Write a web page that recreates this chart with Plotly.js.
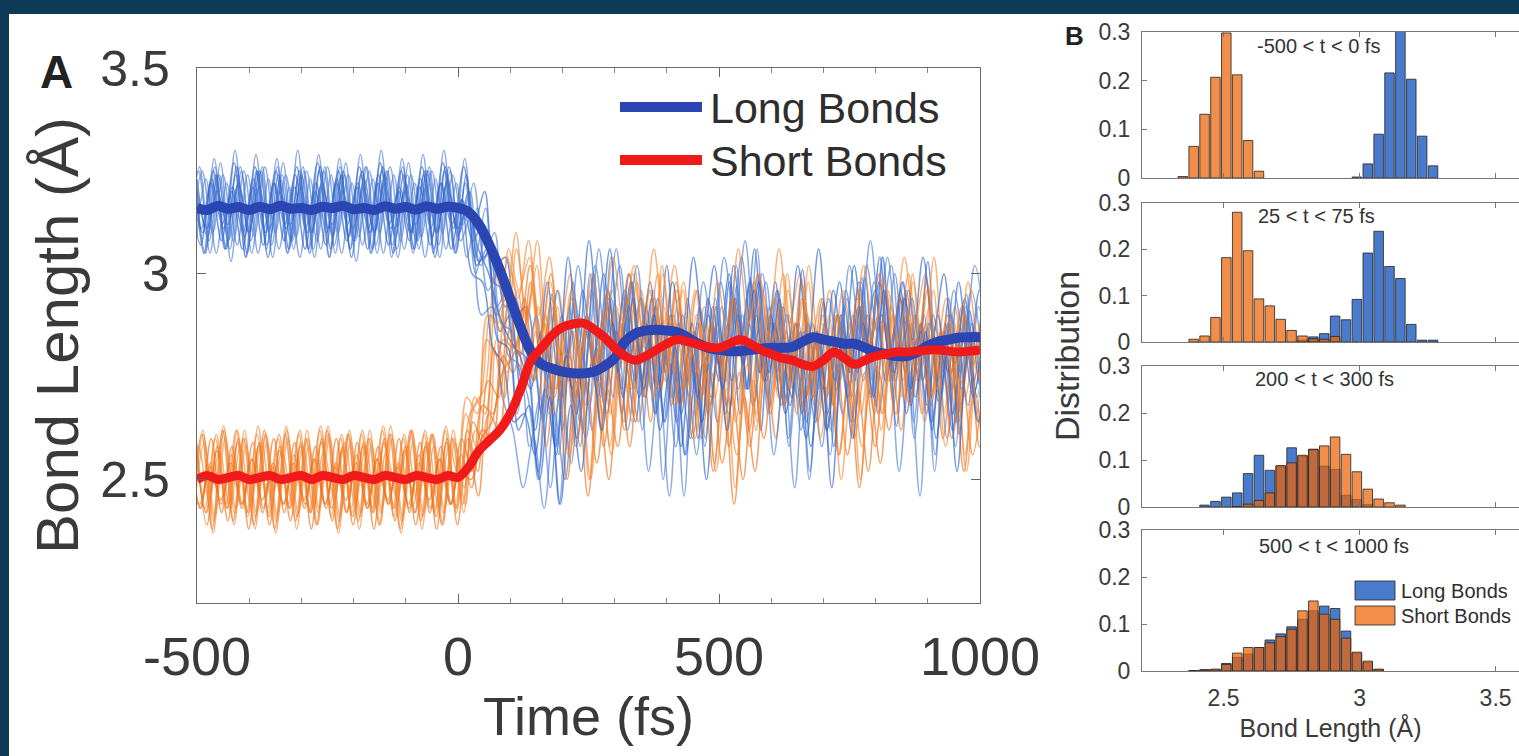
<!DOCTYPE html>
<html>
<head>
<meta charset="utf-8">
<script src="https://cdn.plot.ly/plotly-3.0.1.min.js"></script>
<style>
  html, body { margin: 0; padding: 0; background: #0d3a54; }
  #chart { width: 1519px; height: 756px; }
</style>
</head>
<body>
<div id="chart"></div>
<script>
// ---------------- Panel A: bond-length trajectories ----------------
// Samples every 20 fs starting at -500 fs; each run has its own small start shift (fs).
const RUN_T0 = -500;
const RUN_DT = 20;

// Ensemble averages (Å)
const longMean = [3.160,3.155,3.165,3.158,3.162,3.155,3.163,3.157,3.165,3.158,3.160,3.155,3.163,3.160,3.165,3.157,3.160,3.155,3.164,3.158,3.162,3.156,3.164,3.158,3.163,3.160,
  3.15,3.12,3.07,3.01,2.94,2.87,2.81,2.78,2.77,2.762,
  2.758,2.758,2.762,2.775,2.795,2.835,2.855,2.862,2.864,2.862,
  2.858,2.845,2.83,2.82,2.815,2.812,2.812,2.815,2.818,2.82,
  2.82,2.822,2.835,2.846,2.84,2.835,2.83,2.83,2.82,2.81,
  2.805,2.80,2.80,2.81,2.825,2.835,2.84,2.845,2.846,2.846];
const shortMean = [2.500,2.510,2.500,2.505,2.510,2.500,2.505,2.510,2.500,2.505,2.510,2.500,2.510,2.505,2.500,2.510,2.505,2.500,2.510,2.505,2.500,2.510,2.505,2.500,2.510,2.505,
  2.53,2.57,2.595,2.62,2.66,2.72,2.79,2.82,2.85,2.87,
  2.878,2.88,2.866,2.846,2.82,2.80,2.79,2.80,2.815,2.83,
  2.84,2.835,2.828,2.822,2.82,2.83,2.84,2.83,2.815,2.805,
  2.795,2.79,2.78,2.775,2.79,2.81,2.795,2.78,2.79,2.80,
  2.805,2.81,2.81,2.812,2.815,2.815,2.812,2.81,2.812,2.815];

// Individual long-bond runs (Å)
const longRun01 = [3.23,3.09,3.24,3.08,3.22,3.10,3.25,3.09,3.23,3.08,3.24,3.10,3.22,3.09,3.25,3.08,3.23,3.10,3.24,3.09,3.22,3.08,3.25,3.10,3.23,3.09,
  3.20,3.03,3.05,2.86,2.90,2.72,2.84,
  2.66,2.95,2.62,2.98,2.70,3.00,2.68,2.86,2.80,2.64,2.92,2.72,3.02,2.70,2.94,2.60,2.90,2.74,2.98,2.66,2.99,2.62,2.88,2.82,2.70,3.01,2.70,2.93,2.58,2.92,2.74,2.99,2.68,2.96,2.63,2.89,2.78,3.03,2.69,2.94,2.61,2.91,2.73,2.98];
const longRun02 = [3.25,3.05,3.26,3.06,3.24,3.04,3.25,3.07,3.26,3.05,3.23,3.06,3.25,3.04,3.26,3.06,3.24,3.05,3.25,3.07,3.26,3.05,3.24,3.06,3.25,3.05,
  3.22,3.00,3.10,2.92,2.96,2.78,2.70,
  2.52,2.76,2.44,2.80,2.58,2.88,2.62,2.94,2.66,2.98,2.70,2.96,2.64,2.90,2.56,2.86,2.60,2.92,2.68,2.97,2.72,3.00,2.66,2.92,2.58,2.84,2.52,2.82,2.62,2.90,2.70,2.99,2.74,3.04,2.68,2.94,2.60,2.86,2.56,2.88,2.64,2.95,2.70,2.98];
const longRun03 = [3.22,3.11,3.23,3.12,3.21,3.10,3.23,3.11,3.22,3.12,3.24,3.11,3.22,3.10,3.23,3.12,3.22,3.11,3.24,3.12,3.21,3.10,3.23,3.11,3.22,3.12,
  3.18,3.08,3.12,2.98,2.96,2.82,2.80,
  2.62,2.84,2.56,2.80,2.60,2.86,2.70,2.94,2.78,3.00,2.80,2.98,2.72,2.90,2.66,2.88,2.64,2.92,2.72,3.02,2.80,3.06,2.78,2.98,2.70,2.88,2.64,2.86,2.66,2.90,2.76,2.98,2.82,3.04,2.78,2.96,2.68,2.88,2.62,2.84,2.66,2.92,2.74,3.00];
const longRun04 = [3.06,3.23,3.05,3.22,3.07,3.24,3.05,3.23,3.06,3.21,3.04,3.23,3.06,3.24,3.05,3.22,3.07,3.23,3.05,3.24,3.06,3.22,3.04,3.23,3.06,3.22,
  3.04,3.16,2.96,3.00,2.80,2.78,2.58,
  2.70,2.48,2.74,2.54,2.82,2.62,2.88,2.70,2.94,2.72,2.90,2.66,2.82,2.58,2.78,2.56,2.80,2.64,2.88,2.72,2.96,2.76,2.92,2.70,2.84,2.62,2.78,2.58,2.82,2.66,2.90,2.74,2.98,2.80,3.00,2.76,2.90,2.66,2.82,2.60,2.84,2.68,2.92,2.74];
const longRun05 = [3.26,3.10,3.25,3.11,3.27,3.09,3.26,3.10,3.25,3.11,3.26,3.10,3.27,3.11,3.25,3.09,3.26,3.10,3.27,3.11,3.25,3.10,3.26,3.09,3.27,3.11,
  3.26,3.12,3.20,3.02,3.04,2.90,2.92,
  2.78,2.98,2.76,3.04,2.82,3.08,2.86,3.06,2.80,2.98,2.74,2.94,2.76,2.98,2.82,3.04,2.86,3.02,2.80,2.94,2.72,2.90,2.74,2.96,2.80,3.02,2.84,3.06,2.82,2.98,2.76,2.92,2.70,2.90,2.76,2.98,2.84,3.04,2.86,3.00,2.78,2.94,2.72,2.92];
const longRun06 = [3.04,3.26,3.05,3.27,3.03,3.25,3.05,3.26,3.04,3.27,3.06,3.25,3.04,3.26,3.05,3.27,3.03,3.26,3.05,3.25,3.04,3.27,3.06,3.26,3.04,3.25,
  3.08,3.14,2.90,2.92,2.70,2.62,2.48,
  2.60,2.43,2.66,2.50,2.74,2.60,2.82,2.66,2.86,2.62,2.80,2.52,2.74,2.46,2.76,2.60,2.84,2.70,2.92,2.74,2.90,2.68,2.82,2.56,2.76,2.48,2.78,2.64,2.86,2.72,2.94,2.76,2.90,2.66,2.80,2.52,2.76,2.46,2.84,2.70,2.90,2.72,2.88,2.66];
const longRun07 = [3.21,3.11,3.20,3.12,3.22,3.10,3.21,3.11,3.20,3.12,3.21,3.10,3.22,3.12,3.20,3.11,3.21,3.10,3.22,3.11,3.20,3.12,3.21,3.10,3.22,3.11,
  3.16,3.06,3.00,2.90,2.84,2.80,2.72,
  2.86,2.68,2.90,2.72,2.96,2.78,3.00,2.80,2.96,2.74,2.88,2.66,2.84,2.64,2.86,2.70,2.94,2.78,3.00,2.82,2.98,2.76,2.90,2.68,2.86,2.66,2.88,2.72,2.96,2.80,3.02,2.82,2.96,2.74,2.88,2.66,2.84,2.68,2.90,2.76,2.98,2.80,2.96,2.74];
const longRun08 = [3.29,3.05,3.28,3.06,3.30,3.04,3.29,3.06,3.28,3.05,3.30,3.06,3.29,3.04,3.28,3.06,3.29,3.05,3.30,3.04,3.28,3.06,3.29,3.05,3.30,3.06,
  3.28,3.04,3.16,2.90,2.94,2.66,2.80,
  2.50,2.84,2.56,2.92,2.64,3.00,2.70,3.04,2.72,2.98,2.62,2.90,2.50,2.82,2.46,2.86,2.58,2.94,2.66,3.02,2.72,3.06,2.70,2.96,2.60,2.88,2.50,2.84,2.56,2.90,2.64,2.98,2.72,3.04,2.74,2.98,2.64,2.90,2.52,2.86,2.58,2.92,2.66,3.00];
const longRun09 = [3.21,3.07,3.22,3.08,3.20,3.06,3.21,3.07,3.22,3.08,3.21,3.06,3.20,3.07,3.22,3.08,3.21,3.06,3.22,3.07,3.20,3.08,3.21,3.07,3.22,3.06,
  3.18,3.00,2.98,2.82,2.78,2.64,2.66,
  2.56,2.72,2.58,2.80,2.66,2.90,2.74,2.96,2.76,2.92,2.70,2.84,2.62,2.78,2.58,2.80,2.64,2.88,2.72,2.94,2.78,2.96,2.74,2.88,2.66,2.80,2.60,2.78,2.62,2.84,2.70,2.92,2.78,2.98,2.80,2.94,2.72,2.86,2.64,2.80,2.62,2.84,2.70,2.90];
const longRun10 = [3.07,3.25,3.08,3.24,3.06,3.26,3.08,3.25,3.07,3.24,3.08,3.26,3.06,3.25,3.07,3.24,3.08,3.26,3.07,3.25,3.06,3.24,3.08,3.25,3.07,3.26,
  3.10,3.20,3.02,3.06,2.88,2.86,2.74,
  2.80,2.64,2.86,2.70,2.94,2.78,3.02,2.84,3.06,2.86,3.02,2.80,2.94,2.72,2.88,2.70,2.92,2.76,2.98,2.84,3.04,2.86,3.00,2.80,2.92,2.72,2.86,2.68,2.88,2.74,2.96,2.82,3.02,2.86,3.04,2.82,2.96,2.74,2.88,2.70,2.90,2.76,2.96,2.82];
const longRun11 = [3.25,3.05,3.24,3.06,3.26,3.05,3.25,3.04,3.24,3.06,3.25,3.05,3.26,3.06,3.24,3.04,3.25,3.06,3.26,3.05,3.24,3.06,3.25,3.04,3.26,3.05,
  3.24,3.02,3.06,2.84,2.82,2.62,2.68,
  2.50,2.70,2.44,2.68,2.52,2.78,2.62,2.88,2.70,2.94,2.72,2.90,2.64,2.82,2.56,2.76,2.50,2.80,2.62,2.90,2.72,2.98,2.76,2.94,2.68,2.86,2.58,2.78,2.48,2.78,2.60,2.88,2.70,2.96,2.76,2.94,2.70,2.86,2.60,2.80,2.52,2.80,2.64,2.90];
const longRun12 = [3.09,3.25,3.10,3.24,3.08,3.25,3.09,3.26,3.10,3.24,3.09,3.25,3.08,3.26,3.10,3.24,3.09,3.25,3.10,3.26,3.08,3.24,3.09,3.25,3.10,3.24,
  3.12,3.22,3.04,3.10,2.92,2.94,2.78,
  2.90,2.74,2.96,2.80,3.02,2.84,3.06,2.86,3.02,2.80,2.94,2.72,2.88,2.70,2.90,2.76,2.98,2.84,3.04,2.88,3.08,2.84,2.98,2.76,2.90,2.70,2.88,2.72,2.94,2.80,3.02,2.86,3.08,2.88,3.02,2.80,2.94,2.74,2.90,2.76,2.96,2.84,3.02,2.86];

// Individual short-bond runs (Å)
const shortRun01 = [2.58,2.42,2.57,2.43,2.59,2.42,2.58,2.41,2.57,2.43,2.58,2.42,2.59,2.43,2.57,2.41,2.58,2.42,2.59,2.43,2.57,2.42,2.58,2.41,2.59,2.43,
  2.62,2.52,2.74,2.70,2.94,2.86,3.02,
  2.84,3.00,2.80,2.94,2.72,2.88,2.66,2.84,2.64,2.86,2.70,2.92,2.76,2.98,2.80,2.96,2.74,2.88,2.66,2.82,2.62,2.84,2.68,2.92,2.76,2.98,2.78,2.94,2.70,2.86,2.64,2.82,2.66,2.88,2.74,2.96,2.80,2.98,2.74,2.90,2.66,2.84,2.64,2.86];
const shortRun02 = [2.41,2.61,2.40,2.62,2.42,2.60,2.41,2.61,2.40,2.62,2.41,2.60,2.42,2.61,2.40,2.62,2.41,2.60,2.42,2.61,2.40,2.62,2.41,2.61,2.42,2.60,
  2.48,2.70,2.66,2.92,2.84,3.06,2.90,
  3.08,2.82,2.96,2.74,2.90,2.68,2.86,2.66,2.88,2.72,2.94,2.78,3.00,2.82,2.98,2.76,2.92,2.70,2.86,2.64,2.84,2.66,2.90,2.74,2.96,2.80,3.02,2.82,2.96,2.74,2.88,2.66,2.84,2.66,2.90,2.74,2.98,2.80,3.04,2.78,2.92,2.70,2.86,2.66];
const shortRun03 = [2.55,2.43,2.54,2.44,2.56,2.43,2.55,2.42,2.54,2.44,2.56,2.43,2.55,2.44,2.54,2.42,2.56,2.43,2.55,2.44,2.54,2.43,2.56,2.42,2.55,2.44,
  2.56,2.48,2.62,2.60,2.80,2.76,2.92,
  2.74,2.88,2.66,2.80,2.58,2.74,2.54,2.72,2.58,2.78,2.64,2.84,2.70,2.88,2.68,2.82,2.60,2.76,2.54,2.70,2.50,2.74,2.60,2.82,2.68,2.88,2.70,2.84,2.62,2.78,2.56,2.72,2.52,2.76,2.62,2.84,2.70,2.88,2.68,2.80,2.60,2.74,2.56,2.74];
const shortRun04 = [2.61,2.43,2.60,2.44,2.62,2.42,2.61,2.43,2.60,2.44,2.61,2.42,2.62,2.44,2.60,2.43,2.61,2.42,2.62,2.43,2.60,2.44,2.61,2.42,2.62,2.43,
  2.66,2.58,2.84,2.80,3.04,2.94,3.08,
  2.90,3.04,2.86,3.00,2.80,2.96,2.78,2.96,2.82,3.00,2.86,3.06,2.88,3.02,2.82,2.96,2.76,2.92,2.74,2.94,2.80,3.00,2.86,3.06,2.88,3.00,2.82,2.94,2.76,2.90,2.74,2.92,2.80,2.98,2.86,3.04,2.88,3.00,2.80,2.94,2.74,2.90,2.76,2.94];
const shortRun05 = [2.39,2.61,2.38,2.62,2.40,2.60,2.39,2.62,2.38,2.61,2.40,2.60,2.39,2.62,2.38,2.61,2.40,2.60,2.39,2.61,2.38,2.62,2.40,2.61,2.39,2.60,
  2.44,2.64,2.58,2.82,2.70,2.90,2.72,
  2.86,2.58,2.78,2.50,2.72,2.46,2.70,2.50,2.76,2.58,2.84,2.64,2.90,2.68,2.86,2.60,2.78,2.52,2.72,2.44,2.70,2.52,2.78,2.60,2.86,2.66,2.90,2.64,2.82,2.56,2.74,2.48,2.72,2.54,2.80,2.62,2.88,2.66,2.86,2.60,2.78,2.52,2.72,2.50];
const shortRun06 = [2.44,2.58,2.45,2.57,2.43,2.58,2.44,2.59,2.45,2.57,2.44,2.58,2.43,2.57,2.45,2.59,2.44,2.58,2.43,2.57,2.45,2.58,2.44,2.59,2.43,2.58,
  2.50,2.66,2.70,2.90,2.86,3.00,2.84,
  2.96,2.78,2.92,2.72,2.86,2.68,2.86,2.70,2.92,2.78,2.98,2.82,3.00,2.80,2.94,2.74,2.88,2.68,2.84,2.68,2.88,2.74,2.96,2.80,3.00,2.80,2.94,2.72,2.88,2.66,2.84,2.68,2.90,2.76,2.96,2.82,3.00,2.80,2.92,2.72,2.86,2.68,2.86,2.72];
const shortRun07 = [2.59,2.39,2.58,2.40,2.60,2.38,2.59,2.39,2.58,2.40,2.59,2.38,2.60,2.40,2.58,2.39,2.59,2.38,2.60,2.40,2.58,2.39,2.59,2.38,2.60,2.39,
  2.60,2.46,2.66,2.62,2.86,2.80,2.98,
  2.78,2.94,2.70,2.86,2.62,2.80,2.58,2.78,2.62,2.84,2.70,2.92,2.78,2.96,2.74,2.88,2.66,2.80,2.58,2.76,2.58,2.80,2.66,2.88,2.74,2.94,2.76,2.90,2.68,2.82,2.60,2.76,2.58,2.80,2.66,2.90,2.76,2.96,2.74,2.88,2.64,2.80,2.58,2.78];
const shortRun08 = [2.38,2.62,2.37,2.63,2.39,2.62,2.38,2.61,2.37,2.63,2.38,2.62,2.39,2.63,2.37,2.61,2.38,2.62,2.39,2.63,2.37,2.62,2.38,2.61,2.39,2.62,
  2.42,2.68,2.72,3.00,2.92,3.10,2.88,
  3.02,2.70,2.92,2.56,2.84,2.50,2.82,2.58,2.88,2.66,2.96,2.74,3.02,2.76,2.96,2.66,2.88,2.54,2.82,2.48,2.84,2.62,2.92,2.72,3.00,2.76,2.98,2.68,2.90,2.56,2.82,2.50,2.84,2.62,2.92,2.70,3.00,2.74,2.96,2.66,2.88,2.56,2.82,2.58];
const shortRun09 = [2.59,2.43,2.60,2.42,2.58,2.44,2.59,2.43,2.60,2.42,2.59,2.44,2.58,2.43,2.60,2.42,2.59,2.43,2.58,2.44,2.60,2.42,2.59,2.43,2.58,2.44,
  2.60,2.52,2.68,2.66,2.84,2.82,2.94,
  2.76,2.90,2.72,2.88,2.70,2.90,2.76,2.96,2.82,3.00,2.84,2.96,2.78,2.90,2.72,2.86,2.70,2.88,2.74,2.94,2.80,2.98,2.82,2.94,2.76,2.88,2.70,2.86,2.70,2.90,2.76,2.96,2.82,3.00,2.82,2.94,2.76,2.88,2.70,2.86,2.72,2.90,2.78,2.96];
const shortRun10 = [2.42,2.59,2.41,2.60,2.43,2.58,2.42,2.59,2.41,2.60,2.42,2.58,2.43,2.60,2.41,2.59,2.42,2.58,2.43,2.60,2.41,2.59,2.42,2.58,2.43,2.59,
  2.44,2.62,2.60,2.84,2.76,2.96,2.80,
  2.92,2.66,2.84,2.56,2.76,2.50,2.74,2.56,2.80,2.64,2.88,2.70,2.92,2.68,2.84,2.60,2.76,2.52,2.72,2.56,2.78,2.64,2.86,2.70,2.90,2.68,2.84,2.60,2.76,2.50,2.74,2.58,2.82,2.66,2.90,2.70,2.90,2.64,2.82,2.58,2.76,2.52,2.76,2.60];
const shortRun11 = [2.54,2.44,2.53,2.45,2.54,2.44,2.55,2.45,2.53,2.44,2.54,2.45,2.55,2.44,2.53,2.45,2.54,2.44,2.55,2.45,2.53,2.44,2.54,2.45,2.55,2.44,
  2.52,2.50,2.60,2.64,2.76,2.80,2.86,
  2.74,2.84,2.70,2.82,2.70,2.86,2.76,2.92,2.80,2.94,2.78,2.88,2.72,2.82,2.68,2.82,2.72,2.88,2.78,2.94,2.80,2.92,2.74,2.86,2.68,2.80,2.66,2.82,2.72,2.90,2.78,2.94,2.80,2.90,2.74,2.84,2.68,2.82,2.70,2.86,2.76,2.92,2.80,2.92];
const shortRun12 = [2.62,2.42,2.61,2.43,2.62,2.41,2.63,2.42,2.61,2.43,2.62,2.42,2.63,2.41,2.61,2.42,2.62,2.43,2.63,2.41,2.61,2.42,2.62,2.43,2.63,2.42,
  2.70,2.66,2.90,2.88,3.06,2.96,3.04,
  2.82,2.98,2.78,2.96,2.80,3.00,2.86,3.04,2.88,3.02,2.82,2.94,2.74,2.88,2.72,2.90,2.78,2.98,2.84,3.06,2.88,3.00,2.80,2.92,2.72,2.86,2.70,2.88,2.76,2.96,2.84,3.02,2.86,2.98,2.80,2.92,2.74,2.88,2.72,2.90,2.78,2.98,2.84,3.00];

const longRuns  = [longRun01,longRun02,longRun03,longRun04,longRun05,longRun06,longRun07,longRun08,longRun09,longRun10,longRun11,longRun12];
const shortRuns = [shortRun01,shortRun02,shortRun03,shortRun04,shortRun05,shortRun06,shortRun07,shortRun08,shortRun09,shortRun10,shortRun11,shortRun12];
const longShift  = [0,-6,-12,-3,-9,-15,-1,-7,-13,-17,-4,-10];
const shortShift = [-2,-8,-14,-5,-11,-17,-1,-9,-13,-6,-15,-3];

// ---------------- Panel B: bond-length distributions ----------------
const binCenters = [2.35,2.39,2.43,2.47,2.51,2.55,2.59,2.63,2.67,2.71,2.75,2.79,2.83,2.87,2.91,2.95,2.99,3.03,3.07,3.11,3.15,3.19,3.23,3.27];
const windowLabels = ['-500 < t < 0 fs', '25 < t < 75 fs', '200 < t < 300 fs', '500 < t < 1000 fs'];
const longDist1  = [0,0,0,0,0,0,0,0,0,0,0,0,0,0,0,0,0.002,0.029,0.090,0.216,0.350,0.203,0.086,0.025];
const shortDist1 = [0.003,0.065,0.131,0.207,0.298,0.212,0.077,0.014,0,0,0,0,0,0,0,0,0,0,0,0,0,0,0,0];
const longDist2  = [0,0,0,0,0,0,0,0,0,0,0,0.004,0.011,0.018,0.056,0.048,0.092,0.192,0.239,0.163,0.137,0.038,0.004,0.004];
const shortDist2 = [0,0.006,0.013,0.053,0.182,0.280,0.197,0.093,0.078,0.049,0.025,0.013,0.007,0.006,0.012,0,0,0,0,0,0,0,0,0];
const longDist3  = [0,0,0.004,0.012,0.021,0.030,0.071,0.110,0.078,0.087,0.126,0.108,0.123,0.087,0.080,0.025,0.016,0.005,0,0,0,0,0,0];
const shortDist3 = [0,0,0,0,0,0.001,0.006,0.014,0.030,0.088,0.094,0.110,0.122,0.130,0.149,0.112,0.075,0.038,0.017,0.009,0.004,0,0,0];
const longDist4  = [0,0.001,0.003,0.003,0.016,0.029,0.036,0.050,0.066,0.079,0.094,0.110,0.128,0.138,0.133,0.085,0.038,0.018,0.003,0,0,0,0,0];
const shortDist4 = [0,0.001,0.002,0.004,0.014,0.038,0.050,0.050,0.060,0.073,0.089,0.128,0.149,0.121,0.110,0.070,0.040,0.021,0.004,0,0,0,0,0];
const longDists  = [longDist1, longDist2, longDist3, longDist4];
const shortDists = [shortDist1, shortDist2, shortDist3, shortDist4];

// ---------------- Layout helpers ----------------
const W = 1519, H = 756;
const fx = v => v / W;          // page px -> paper x
const fy = v => 1 - v / H;      // page px -> paper y
const FONT = 'Liberation Sans, Arial, Helvetica, sans-serif';
const INK = '#3a3a3a';

const LONG_THIN = ['rgba(46,98,204,0.66)', 'rgba(80,128,214,0.66)'];
const SHORT_THIN = ['rgba(238,110,20,0.66)', 'rgba(246,138,56,0.66)'];
const LONG_MEAN = '#2b45b2';
const SHORT_MEAN = '#f01a1a';
const BAR_LONG = 'rgb(74,122,204)';
const BAR_SHORT = 'rgba(237,98,4,0.72)';
const BAR_EDGE = 'rgba(45,45,45,0.85)';

function runTimes(n, shift) {
  return Array.from({length: n}, (_, k) => RUN_T0 + shift + RUN_DT * k);
}
// keep only the occupied bins of a histogram
function occupied(centers, heights) {
  const x = [], y = [];
  heights.forEach((h, i) => { if (h > 0) { x.push(centers[i]); y.push(h); } });
  return {x, y};
}

const traces = [];
for (let i = 0; i < longRuns.length; i++) {
  traces.push({
    type: 'scatter', mode: 'lines', xaxis: 'x', yaxis: 'y',
    x: runTimes(longRuns[i].length, longShift[i]), y: longRuns[i],
    line: {color: LONG_THIN[i % 2], width: 1.5, shape: 'spline', smoothing: 1},
    hoverinfo: 'skip', showlegend: false
  });
  traces.push({
    type: 'scatter', mode: 'lines', xaxis: 'x', yaxis: 'y',
    x: runTimes(shortRuns[i].length, shortShift[i]), y: shortRuns[i],
    line: {color: SHORT_THIN[i % 2], width: 1.5, shape: 'spline', smoothing: 1},
    hoverinfo: 'skip', showlegend: false
  });
}
traces.push({
  type: 'scatter', mode: 'lines', name: 'Long Bonds', xaxis: 'x', yaxis: 'y',
  x: runTimes(longMean.length, 0), y: longMean,
  line: {color: LONG_MEAN, width: 10, shape: 'spline', smoothing: 1}, showlegend: false
});
traces.push({
  type: 'scatter', mode: 'lines', name: 'Short Bonds', xaxis: 'x', yaxis: 'y',
  x: runTimes(shortMean.length, 0), y: shortMean,
  line: {color: SHORT_MEAN, width: 9, shape: 'spline', smoothing: 1}, showlegend: false
});

for (let p = 0; p < 4; p++) {
  const xa = 'x' + (p + 2), ya = 'y' + (p + 2);
  const lg = occupied(binCenters, longDists[p]);
  const sh = occupied(binCenters, shortDists[p]);
  traces.push({
    type: 'bar', name: 'Long Bonds', xaxis: xa, yaxis: ya,
    x: lg.x, y: lg.y, width: 0.035,
    marker: {color: BAR_LONG, line: {color: BAR_EDGE, width: 1}}, showlegend: false
  });
  traces.push({
    type: 'bar', name: 'Short Bonds', xaxis: xa, yaxis: ya,
    x: sh.x, y: sh.y, width: 0.035,
    marker: {color: BAR_SHORT, line: {color: BAR_EDGE, width: 1}}, showlegend: false
  });
}

// ---------------- Axes ----------------
const layout = {
  width: W, height: H,
  margin: {l: 0, r: 0, t: 0, b: 0, pad: 0},
  paper_bgcolor: '#0d3a54',
  plot_bgcolor: '#ffffff',
  font: {family: FONT, color: INK},
  showlegend: false,
  barmode: 'overlay',
  xaxis: {
    domain: [fx(197), fx(980)], range: [-500, 1000], anchor: 'y',
    tickvals: [-500, 0, 500, 1000], ticktext: ['-500', '0', '500', '1000'],
    ticks: 'inside', ticklen: 9, tickwidth: 1, tickcolor: '#666',
    minor: {dtick: 100, ticks: 'inside', ticklen: 5, tickcolor: '#888'},
    showline: true, linecolor: '#6a6a6a', linewidth: 1.2, mirror: 'allticks',
    showgrid: false, zeroline: false,
    tickfont: {size: 54, color: INK}, ticklabelstandoff: 6,
    title: {text: 'Time (fs)', font: {size: 54, color: INK}, standoff: 8}
  },
  yaxis: {
    domain: [fy(603), fy(68)], range: [2.2, 3.5], anchor: 'x',
    tickvals: [2.5, 3, 3.5], ticktext: ['2.5', '3', '3.5'],
    ticks: 'inside', ticklen: 9, tickwidth: 1, tickcolor: '#666',
    showline: true, linecolor: '#6a6a6a', linewidth: 1.2, mirror: 'allticks',
    showgrid: false, zeroline: false,
    tickfont: {size: 50, color: INK}, ticklabelstandoff: 16,
    title: {text: 'Bond Length (Å)', font: {size: 60, color: INK}, standoff: 2}
  },
  annotations: [],
  shapes: [
    // white figure panel inside the dark frame
    {type: 'rect', xref: 'paper', yref: 'paper', x0: fx(9), x1: 1, y0: 0, y1: fy(14),
     fillcolor: '#ffffff', line: {width: 0}, layer: 'below'}
  ]
};

const histTop = [32, 203, 366, 530];
const histBottom = [178, 342, 507, 671];
const labelY = [46, 216, 379, 546];
const labelX = [1318, 1316, 1324, 1334];
for (let p = 0; p < 4; p++) {
  const n = p + 2;
  layout['xaxis' + n] = {
    domain: [fx(1142), 1], range: [2.2, 2.2 + (W - 1142) / 272], anchor: 'y' + n,
    tickvals: [2.5, 3, 3.5], ticktext: ['2.5', '3', '3.5'], showticklabels: p === 3,
    ticks: 'inside', ticklen: 5, tickcolor: '#777',
    showline: true, linecolor: '#777', linewidth: 1, mirror: 'ticks',
    showgrid: false, zeroline: false,
    tickfont: {size: 23, color: INK}, ticklabelstandoff: 6
  };
  layout['yaxis' + n] = {
    domain: [fy(histBottom[p]), fy(histTop[p])], range: [0, 0.3], anchor: 'x' + n,
    tickvals: [0, 0.1, 0.2, 0.3], ticktext: ['0', '0.1', '0.2', '0.3'],
    ticks: 'inside', ticklen: 5, tickcolor: '#777',
    showline: true, linecolor: '#777', linewidth: 1, mirror: false,
    showgrid: false, zeroline: false,
    tickfont: {size: 23, color: INK}, ticklabelstandoff: 6
  };
  layout.annotations.push({
    xref: 'paper', yref: 'paper', x: fx(labelX[p]), y: fy(labelY[p]),
    text: windowLabels[p], showarrow: false, xanchor: 'center', yanchor: 'middle',
    font: {size: 20, color: '#333'}
  });
}
layout.xaxis5.title = {text: 'Bond Length (Å)', font: {size: 25, color: INK}, standoff: 9};

// panel letters and the shared distribution label
layout.annotations.push(
  {xref: 'paper', yref: 'paper', x: fx(56), y: fy(72), text: '<b>A</b>', showarrow: false,
   xanchor: 'center', yanchor: 'middle', font: {size: 46, color: '#222'}},
  {xref: 'paper', yref: 'paper', x: fx(1074), y: fy(36), text: '<b>B</b>', showarrow: false,
   xanchor: 'center', yanchor: 'middle', font: {size: 26, color: '#222'}},
  {xref: 'paper', yref: 'paper', x: fx(1067), y: fy(356), text: 'Distribution', showarrow: false,
   textangle: -90, xanchor: 'center', yanchor: 'middle', font: {size: 34, color: INK}}
);

// legend for panel A
layout.shapes.push(
  {type: 'line', xref: 'paper', yref: 'paper', x0: fx(620), x1: fx(702), y0: fy(107), y1: fy(107),
   line: {color: LONG_MEAN, width: 10}},
  {type: 'line', xref: 'paper', yref: 'paper', x0: fx(620), x1: fx(702), y0: fy(160), y1: fy(160),
   line: {color: SHORT_MEAN, width: 10}}
);
layout.annotations.push(
  {xref: 'paper', yref: 'paper', x: fx(708), y: fy(108), text: 'Long Bonds', showarrow: false,
   xanchor: 'left', yanchor: 'middle', font: {size: 43, color: '#2e2e2e'}},
  {xref: 'paper', yref: 'paper', x: fx(708), y: fy(161), text: 'Short Bonds', showarrow: false,
   xanchor: 'left', yanchor: 'middle', font: {size: 43, color: '#2e2e2e'}}
);

// legend for panel B
layout.shapes.push(
  {type: 'rect', xref: 'paper', yref: 'paper', x0: fx(1355), x1: fx(1395), y0: fy(600), y1: fy(581),
   fillcolor: BAR_LONG, line: {color: BAR_EDGE, width: 1}},
  {type: 'rect', xref: 'paper', yref: 'paper', x0: fx(1355), x1: fx(1395), y0: fy(625), y1: fy(606),
   fillcolor: 'rgb(242,141,74)', line: {color: BAR_EDGE, width: 1}}
);
layout.annotations.push(
  {xref: 'paper', yref: 'paper', x: fx(1399), y: fy(591), text: 'Long Bonds', showarrow: false,
   xanchor: 'left', yanchor: 'middle', font: {size: 20, color: '#2e2e2e'}},
  {xref: 'paper', yref: 'paper', x: fx(1399), y: fy(616), text: 'Short Bonds', showarrow: false,
   xanchor: 'left', yanchor: 'middle', font: {size: 20, color: '#2e2e2e'}}
);

Plotly.newPlot('chart', traces, layout, {displayModeBar: false, staticPlot: true});
</script>
</body>
</html>
